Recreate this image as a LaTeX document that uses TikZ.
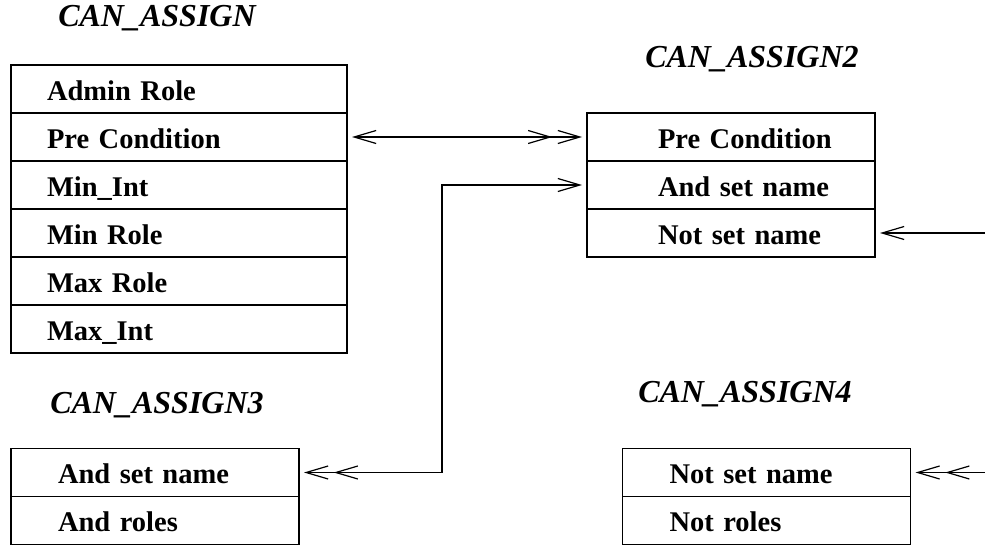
\documentclass[tikz,border=0pt]{standalone}
\usepackage{fontspec}
\setmainfont{Liberation Serif}
\usetikzlibrary{arrows.meta, positioning}

\newcommand{\rowfont}{\fontsize{14.25}{17}\selectfont\bfseries\hyphenpenalty=10000}
\newcommand{\titlefont}{\fontsize{16}{19}\selectfont\bfseries\itshape}

\begin{document}
\begin{tikzpicture}[
    x=0.5pt, y=-0.5pt,
    node distance=0pt,
    row/.style={rectangle, draw=black, line width=0.6pt, minimum height=24pt, inner ysep=0pt, outer sep=0pt, align=left, text height=11pt, text depth=0pt, font=\rowfont},
    arow/.style={row, text width=132pt, inner xsep=18pt},
    prow/.style={row, text width=73pt, inner xsep=35.5pt},
    srow/.style={row, text width=97pt, inner xsep=23.5pt},
    title/.style={anchor=base, inner sep=0pt, font=\titlefont},
    link/.style={line width=0.6pt, >={Straight Barb[length=11pt, width=6.5pt, sep=2.5pt]}}
]
\useasboundingbox (0,0) rectangle (985,546);

% CAN_ASSIGN
\node (t1) [title] at (157,26) {CAN\_ASSIGN};
\node (admin) [arow] at (179,89) {Admin Role};
\node (pre1) [arow, below=of admin] {Pre Condition};
\node (minint) [arow, below=of pre1] {Min\_Int};
\node (minrole) [arow, below=of minint] {Min Role};
\node (maxrole) [arow, below=of minrole] {Max Role};
\node (maxint) [arow, below=of maxrole] {Max\_Int};

% CAN_ASSIGN2
\node (t2) [title] at (752,67) {CAN\_ASSIGN2};
\node (pre2) [prow] at (731,137) {Pre~Condition};
\node (and2) [prow, below=of pre2] {And~set~name};
\node (not2) [prow, below=of and2] {Not~set~name};

% CAN_ASSIGN3
\node (t3) [title] at (157,413) {CAN\_ASSIGN3};
\node (and3) [srow] at (155,472.5) {And set name};
\node (androles) [srow, below=of and3] {And roles};

% CAN_ASSIGN4
\node (t4) [title] at (745,402) {CAN\_ASSIGN4};
\node (not4) [srow] at (766.5,472.5) {Not set name};
\node (notroles) [srow, below=of not4] {Not roles};

\coordinate (turn) at (442,185);
\coordinate (in2) at (985,233);
\coordinate (in4) at (985,472.5);

\draw [link, <->>] (pre1.east) -- (pre2.west);
\draw [link, <->>] (and2.west) -- (turn) |- (and3.east);
\draw [link, ->] (in2) -- (not2.east);
\draw [link, ->>] (in4) -- (not4.east);

\end{tikzpicture}
\end{document}
